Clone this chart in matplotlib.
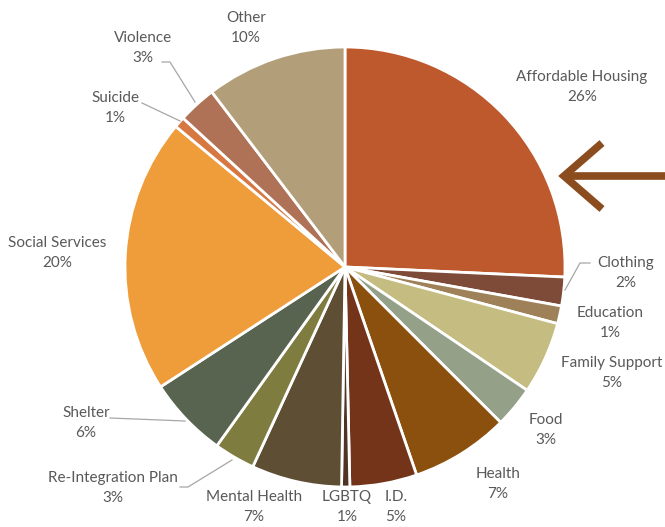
import matplotlib
matplotlib.use("Agg")
import matplotlib.pyplot as plt

# data, clockwise from 12 o'clock
labels = ["Affordable Housing", "Clothing", "Education", "Family Support", "Food",
          "Health", "I.D.", "LGBTQ", "Mental Health", "Re-Integration Plan",
          "Shelter", "Social Services", "Suicide", "Violence", "Other"]
values = [25.6, 2.1, 1.3, 5.3, 3.0, 7.2, 4.9, 0.6, 6.6, 3.0, 5.9, 20.1, 0.8, 2.8, 10.3]
colors = ["#BE582D", "#7E4B38", "#9E8158", "#C4BC80", "#95A088", "#8B500D", "#73341A",
          "#4F3424", "#5E4E34", "#7F7C40", "#586450", "#EF9C3B", "#D77843", "#AF7257",
          "#B29F79"]

# label centres in pixels (x, y from top)
lab_px = [(582, 87), (626, 273), (610, 323), (612, 373), (546, 430), (498, 484),
          (396, 507), (347, 507), (254, 507), (113, 488), (86, 423), (57, 253),
          (115, 108), (143, 48), (246, 28)]
# leader lines in pixels
lead_px = {1: [(590, 263), (580, 263), (565, 290)],
           9: [(180, 487), (188, 487), (232, 460)],
           10: [(110, 418), (185, 421)],
           12: [(142, 103), (180, 121)],
           13: [(162, 62), (170, 62), (195, 102)]}

W, H = 665, 527
cx, cy, R = 345, 267, 220

def px(p):
    return ((p[0] - cx) / R, (cy - p[1]) / R)

fig = plt.figure(figsize=(W / 100, H / 100), dpi=100)
ax = fig.add_axes([0, 0, 1, 1])
ax.pie(values, colors=colors, startangle=90, counterclock=False, radius=1,
       wedgeprops=dict(edgecolor="white", linewidth=2))
ax.set_xlim(-cx / R, (W - cx) / R)
ax.set_ylim((cy - H) / R, cy / R)
ax.set_aspect("equal")
ax.axis("off")

plt.rcParams["font.family"] = ["Lato", "DejaVu Sans"]
for i, (lab, v) in enumerate(zip(labels, values)):
    x, y = px(lab_px[i])
    ax.text(x, y, f"{lab}\n{int(v + 0.5)}%", ha="center", va="center",
            fontsize=11, color="#595959", linespacing=1.55)

for i, pts in lead_px.items():
    xy = [px(p) for p in pts]
    ax.plot([p[0] for p in xy], [p[1] for p in xy], color="#A6A6A6", lw=0.9)

# brown arrow pointing at Affordable Housing
arrow_c = "#8B4D1E"
tip = px((564, 176))
ax.plot([px((602, 143))[0], tip[0], px((602, 209))[0]],
        [px((602, 143))[1], tip[1], px((602, 209))[1]],
        color=arrow_c, lw=5.5, solid_joinstyle="miter", solid_capstyle="butt")
ax.plot([tip[0] + 0.02, px((665, 176))[0]], [tip[1], tip[1]],
        color=arrow_c, lw=5.5, solid_capstyle="butt")

fig.savefig("out.png", dpi=100)
